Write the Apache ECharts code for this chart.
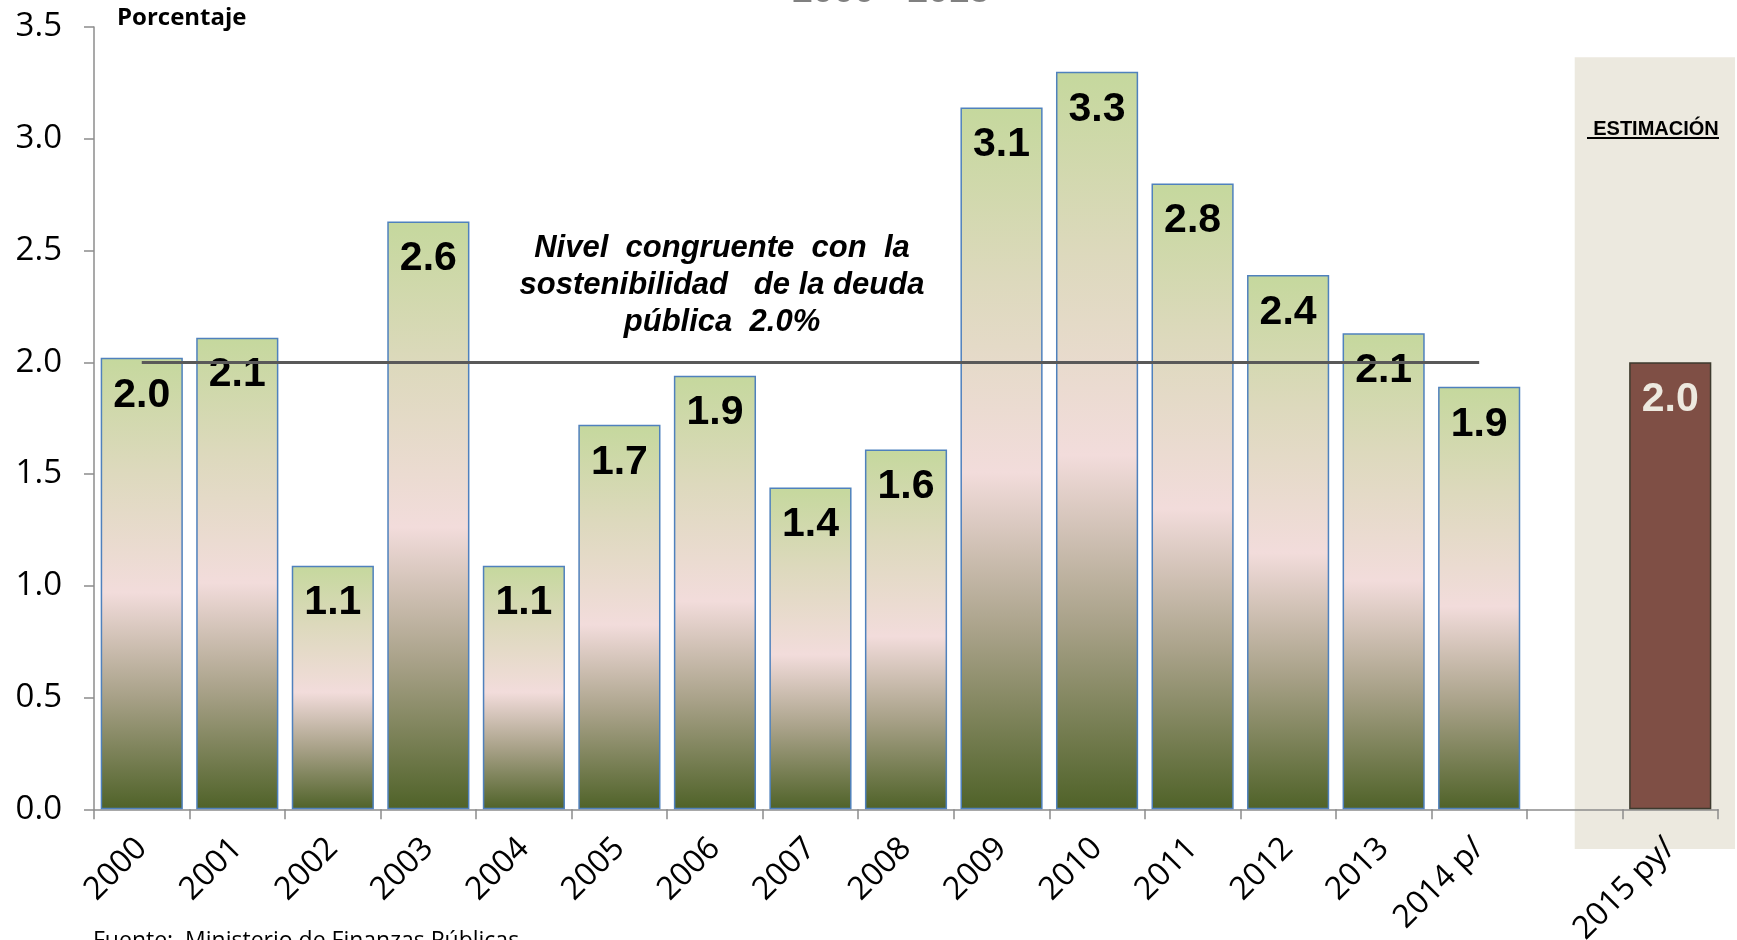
<!DOCTYPE html>
<html>
<head>
<meta charset="utf-8">
<script src="https://cdn.jsdelivr.net/npm/echarts@6/dist/echarts.min.js"></script>
<style>
html,body{margin:0;padding:0;background:#fff;}
#c{width:1737px;height:940px;}
</style>
</head>
<body>
<div id="c"></div>
<script>
const categories = ['2000','2001','2002','2003','2004','2005','2006','2007','2008','2009','2010','2011','2012','2013','2014 p/','','2015 py/'];
const historico = [2.02, 2.11, 1.09, 2.63, 1.09, 1.72, 1.94, 1.44, 1.61, 3.14, 3.30, 2.80, 2.39, 2.13, 1.89, null, null];
const estimacion = [null, null, null, null, null, null, null, null, null, null, null, null, null, null, null, null, 2.00];
const nivelSostenible = 2.0;
const yTicks = { min: 0, max: 3.5, interval: 0.5 };

const chart = echarts.init(document.getElementById('c'), null, { renderer: 'canvas' });

const labelBase = {
  show: true,
  position: 'insideTop',
  distance: 17,
  fontFamily: 'Liberation Sans',
  fontWeight: 'bold',
  fontSize: 41,
  formatter: p => (p.value == null ? '' : Number(p.value).toFixed(1))
};

chart.setOption({
  animation: false,
  backgroundColor: '#ffffff',
  grid: { left: 94, right: 19, top: 27, bottom: 130.7, containLabel: false, outerBoundsMode: 'none' },
  xAxis: {
    type: 'category',
    data: categories,
    boundaryGap: true,
    axisLine: { show: true, lineStyle: { color: '#8c8c8c', width: 1.5 } },
    axisTick: { show: true, interval: 0, length: 10, lineStyle: { color: '#8c8c8c', width: 1.5 } },
    axisLabel: { interval: 0, rotate: 45, margin: 34, fontFamily: 'Open Sans', fontSize: 32, color: '#000' },
    splitLine: { show: false }
  },
  yAxis: {
    type: 'value',
    min: yTicks.min, max: yTicks.max, interval: yTicks.interval,
    axisLine: { show: true, lineStyle: { color: '#8c8c8c', width: 1.5 } },
    axisTick: { show: true, length: 10, lineStyle: { color: '#8c8c8c', width: 1.5 } },
    axisLabel: { margin: 32, fontFamily: 'Open Sans', fontSize: 33, color: '#000', formatter: v => v.toFixed(1) },
    splitLine: { show: false }
  },
  series: [
    {
      name: 'Histórico',
      type: 'bar',
      data: historico,
      barCategoryGap: '14%',
      barGap: '-100%',
      itemStyle: {
        color: new echarts.graphic.LinearGradient(0, 0, 0, 1, [
          { offset: 0, color: '#c5d89d' },
          { offset: 0.25, color: '#ddd9bd' },
          { offset: 0.52, color: '#f2dcdb' },
          { offset: 0.75, color: '#a8a188' },
          { offset: 1, color: '#4f6228' }
        ]),
        borderColor: '#4f81bd',
        borderWidth: 1.5
      },
      label: Object.assign({}, labelBase, { color: '#000' }),
      markLine: {
        silent: true,
        symbol: ['none', 'none'],
        label: { show: false },
        lineStyle: { color: '#595959', width: 3, type: 'solid' },
        data: [[{ coord: ['2000', nivelSostenible] }, { coord: ['2014 p/', nivelSostenible] }]]
      }
    },
    {
      name: 'Estimación',
      type: 'bar',
      data: estimacion,
      barCategoryGap: '14%',
      barGap: '-100%',
      itemStyle: { color: '#7f4f45', borderColor: '#3d3a2e', borderWidth: 1.5 },
      label: Object.assign({}, labelBase, { color: '#ede9df' })
    }
  ]
});

const leftShade = chart.convertToPixel({ xAxisIndex: 0 }, 15);
const topShade = chart.convertToPixel({ yAxisIndex: 0 }, 3.365);
const bottomShade = chart.convertToPixel({ yAxisIndex: 0 }, -0.178);

chart.setOption({
  graphic: [
    { type: 'rect', z: -10, silent: true,
      shape: { x: leftShade, y: topShade, width: 1735 - leftShade, height: bottomShade - topShade },
      style: { fill: '#ece9df' } },
    { type: 'text', x: 1656, y: 129, z: 10,
      style: { text: 'ESTIMACIÓN', fontFamily: 'Liberation Sans', fontWeight: 'bold', fontSize: 20, letterSpacing: 0.3, fill: '#000', align: 'center', verticalAlign: 'middle' } },
    { type: 'line', z: 10, shape: { x1: 1587, y1: 138, x2: 1719, y2: 138 }, style: { stroke: '#000', lineWidth: 2 } },
    { type: 'text', x: 117, y: 18, z: 10,
      style: { text: 'Porcentaje', fontFamily: 'Open Sans', fontWeight: 'bold', fontSize: 24, fill: '#000', verticalAlign: 'middle' } },
    { type: 'text', x: 722, y: 285, z: 10,
      style: { text: 'Nivel  congruente  con  la\nsostenibilidad   de la deuda\npública  2.0%', fontFamily: 'Liberation Sans', fontWeight: 'bold', fontStyle: 'italic', fontSize: 31, lineHeight: 37, letterSpacing: 1.8, fill: '#000', align: 'center', verticalAlign: 'middle' } },
    { type: 'text', x: 891, y: -8.5, z: 10,
      style: { text: '2000 - 2015', fontFamily: 'Liberation Sans', fontWeight: 'bold', fontSize: 37, fill: '#808080', align: 'center', verticalAlign: 'middle' } },
    { type: 'text', x: 93, y: 941, z: 10,
      style: { text: 'Fuente:  Ministerio de Finanzas Públicas', fontFamily: 'Open Sans', fontSize: 23, fill: '#000', verticalAlign: 'middle' } }
  ]
});
</script>
</body>
</html>
